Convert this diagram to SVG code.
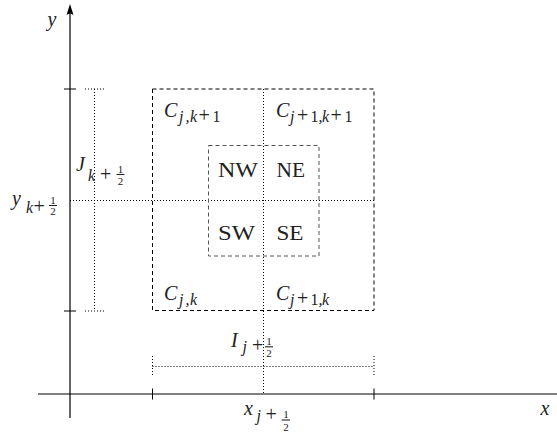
<svg xmlns="http://www.w3.org/2000/svg" width="557" height="434" viewBox="0 0 557 434" font-family="'Liberation Serif', serif">
<style>
.axis{stroke:#000;stroke-width:1.2;fill:none}
.tick{stroke:#000;stroke-width:1;fill:none}
.dash{stroke:#000;stroke-width:1;stroke-dasharray:4 3;fill:none}
.dash2{stroke:#555;stroke-width:1;stroke-dasharray:4 3;fill:none}
.dot{stroke:#000;stroke-width:1;stroke-dasharray:1 2;fill:none}
.bar{stroke:#222;stroke-width:1.1}
.m,.r,.s,.su,.p,.f{font-family:'Liberation Serif',serif;fill:#222}
.m{font-style:italic;font-size:20px}
.r{font-size:20px}
.s{font-style:italic;font-size:16px}
.su{font-style:normal;font-size:16px}
.p{font-style:normal;font-size:20px}
.f{font-style:normal;font-size:11px;text-anchor:middle}
</style>
<g id="axes">
<line class="axis" x1="38" y1="394" x2="557" y2="394"/>
<line class="axis" x1="70" y1="418" x2="70" y2="8"/>
<path d="M70,4 L66.5,15 Q70,12 73.5,15 Z" fill="#000"/>
<line class="tick" x1="64" y1="89" x2="76" y2="89"/>
<line class="tick" x1="64" y1="311" x2="76" y2="311"/>
<line class="tick" x1="152.5" y1="388.5" x2="152.5" y2="399.5"/>
<line class="tick" x1="374" y1="388.5" x2="374" y2="399.5"/>
<text class="m" x="47.5" y="26">y</text>
<text class="m" x="540.5" y="415">x</text>
</g>
<g id="connectors">
<line class="dot" x1="263.5" y1="89" x2="263.5" y2="394"/>
<line class="dot" x1="70" y1="200.5" x2="374" y2="200.5"/>
<line class="dot" x1="94.5" y1="89" x2="94.5" y2="311"/>
<line class="dot" x1="85" y1="89" x2="105" y2="89"/>
<line class="dot" x1="85" y1="311" x2="105" y2="311"/>
<line class="dot" x1="152.5" y1="366.5" x2="374" y2="366.5"/>
<line class="dot" x1="152.5" y1="356" x2="152.5" y2="377"/>
<line class="dot" x1="374" y1="356" x2="374" y2="377"/>
</g>
<g id="outer-box">
<rect class="dash" x="152.5" y="89" width="221.5" height="221.5"/>
</g>
<g id="inner-box">
<rect class="dash2" x="208.5" y="145.5" width="110.5" height="110.5"/>
</g>
<g id="C-j-k1">
<text class="m" x="164" y="116.5">C<tspan class="s" x="179" y="121.5">j</tspan><tspan class="s" x="185.5">,</tspan><tspan class="s" x="190">k</tspan><tspan class="p" x="198.5">+</tspan><tspan class="su" x="212.5">1</tspan></text>
</g>
<g id="C-j1-k1">
<text class="m" x="276" y="116.5">C<tspan class="s" x="290" y="121.5">j</tspan><tspan class="p" x="297">+</tspan><tspan class="su" x="310.5">1</tspan><tspan class="s" x="318.5">,</tspan><tspan class="s" x="322">k</tspan><tspan class="p" x="330.5">+</tspan><tspan class="su" x="344.5">1</tspan></text>
</g>
<g id="C-j-k">
<text class="m" x="164" y="300">C<tspan class="s" x="179" y="305">j</tspan><tspan class="s" x="185.5">,</tspan><tspan class="s" x="190">k</tspan></text>
</g>
<g id="C-j1-k">
<text class="m" x="276" y="300">C<tspan class="s" x="290" y="305">j</tspan><tspan class="p" x="297">+</tspan><tspan class="su" x="310.5">1</tspan><tspan class="s" x="318.5">,</tspan><tspan class="s" x="322">k</tspan></text>
</g>
<g id="NW"><text class="r" x="218" y="177" textLength="40" lengthAdjust="spacingAndGlyphs">NW</text></g>
<g id="NE"><text class="r" x="276.5" y="177" textLength="28.5" lengthAdjust="spacingAndGlyphs">NE</text></g>
<g id="SW"><text class="r" x="218" y="240" textLength="37" lengthAdjust="spacingAndGlyphs">SW</text></g>
<g id="SE"><text class="r" x="276.5" y="240" textLength="27" lengthAdjust="spacingAndGlyphs">SE</text></g>
<g id="J-label">
<text class="m" x="76" y="171">J<tspan class="s" x="88" y="181">k</tspan><tspan class="p" x="100">+</tspan><tspan class="f" x="120.5" y="172.5">1</tspan><tspan class="f" x="120.5" y="185">2</tspan></text>
<line class="bar" x1="116.5" y1="174.5" x2="124.5" y2="174.5"/>
</g>
<g id="y-label">
<text class="m" x="12" y="205">y<tspan class="s" x="26" y="212.5">k</tspan><tspan class="p" x="33.5">+</tspan><tspan class="f" x="53" y="203.5">1</tspan><tspan class="f" x="53" y="215">2</tspan></text>
<line class="bar" x1="49" y1="205.5" x2="57" y2="205.5"/>
</g>
<g id="I-label">
<text class="m" x="231" y="346.5">I<tspan class="s" x="242.5" y="352">j</tspan><tspan class="p" x="252">+</tspan><tspan class="f" x="269" y="344.5">1</tspan><tspan class="f" x="269" y="356.5">2</tspan></text>
<line class="bar" x1="265" y1="346.8" x2="273" y2="346.8"/>
</g>
<g id="x-label">
<text class="m" x="244" y="415">x<tspan class="s" x="256.5" y="421">j</tspan><tspan class="p" x="265.5">+</tspan><tspan class="f" x="286" y="418">1</tspan><tspan class="f" x="286" y="430.5">2</tspan></text>
<line class="bar" x1="281.7" y1="420" x2="290" y2="420"/>
</g>
</svg>
